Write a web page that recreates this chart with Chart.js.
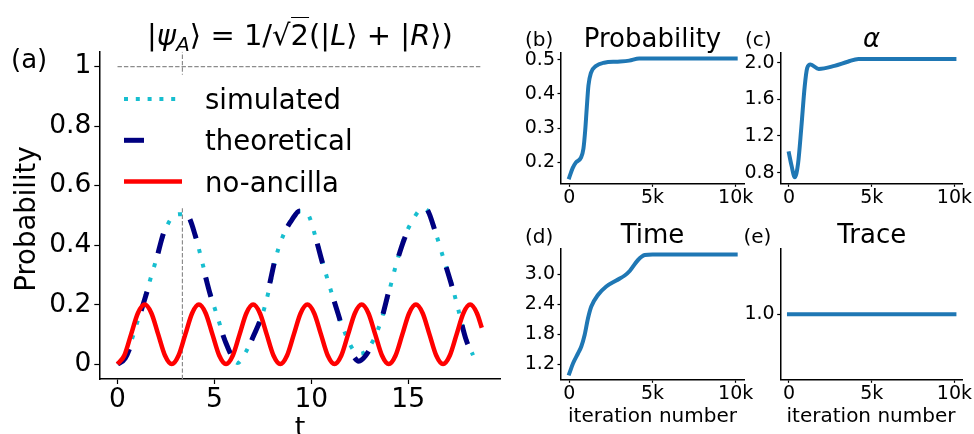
<!DOCTYPE html>
<html>
<head>
<meta charset="utf-8">
<script src="https://cdn.jsdelivr.net/npm/chart.js@4.4.1/dist/chart.umd.min.js"></script>
<style>
  html, body { margin: 0; padding: 0; background: #fff; }
  #fig { position: relative; width: 974px; height: 434px; overflow: hidden; font-family: "DejaVu Sans", sans-serif; color: #000; }
  #fig canvas { position: absolute; }
  .lbl { position: absolute; white-space: nowrap; line-height: 1; }
  .ctr { transform: translateX(-50%); }
  .lbl sub { font-size: 0.7em; vertical-align: -0.3em; line-height: 0; }
  .rot { transform: translate(-50%, -50%) rotate(-90deg); }
</style>
</head>
<body>
<div id="fig">
  <canvas id="chartA" width="515" height="434" style="left:0;top:0"></canvas>
  <canvas id="chartB" width="250" height="230" style="left:520px;top:0"></canvas>
  <canvas id="chartC" width="234" height="230" style="left:740px;top:0"></canvas>
  <canvas id="chartD" width="250" height="219" style="left:520px;top:215px"></canvas>
  <canvas id="chartE" width="234" height="219" style="left:740px;top:215px"></canvas>

  <div class="lbl ctr" style="left:300px;top:20.5px;font-size:29px">|<i>ψ</i><sub><i>A</i></sub>⟩ = 1/√<span style="border-top:1.5px solid #000">2</span>(|<i>L</i>⟩ + |<i>R</i>⟩)</div>
  <div class="lbl" style="left:11px;top:46px;font-size:26px">(a)</div>
  <div class="lbl rot" style="left:26px;top:219px;font-size:27.5px">Probability</div>
  <div class="lbl ctr" style="left:300px;top:413px;font-size:27px">t</div>

  <div class="lbl" style="left:525px;top:28.8px;font-size:20px">(b)</div>
  <div class="lbl ctr" style="left:652.5px;top:24.7px;font-size:26px">Probability</div>
  <div class="lbl" style="left:745px;top:28.8px;font-size:20px">(c)</div>
  <div class="lbl ctr" style="left:871.7px;top:24.7px;font-size:26px"><i>α</i></div>

  <div class="lbl" style="left:525px;top:225.5px;font-size:20px">(d)</div>
  <div class="lbl ctr" style="left:652.5px;top:221.3px;font-size:26px">Time</div>
  <div class="lbl" style="left:743.5px;top:225.5px;font-size:20px">(e)</div>
  <div class="lbl ctr" style="left:871.7px;top:221.3px;font-size:26px">Trace</div>

  <div class="lbl ctr" style="left:652.5px;top:405px;font-size:20px">iteration number</div>
  <div class="lbl ctr" style="left:871px;top:405px;font-size:20px">iteration number</div>
</div>

<script>
// (a) probability vs t
const tSim = [0, 0.4, 0.8, 1.2, 1.6, 2.0, 2.4, 2.8, 3.2, 3.6, 4.0, 4.4, 4.8, 5.2, 5.6, 6.0, 6.2, 6.6, 7.0, 7.4, 7.8, 8.2, 8.6, 9.0, 9.4, 9.8, 10.2, 10.6, 11.0, 11.4, 11.8, 12.2, 12.5, 12.8, 13.2, 13.6, 14.0, 14.4, 14.8, 15.2, 15.6, 15.8, 16.0, 16.4, 16.8, 17.2, 17.6, 18.0, 18.35];
const pSim = [0, 0.025, 0.095, 0.18, 0.265, 0.352, 0.44, 0.492, 0.504, 0.498, 0.435, 0.335, 0.235, 0.15, 0.072, 0.015, 0.004, 0.038, 0.092, 0.15, 0.245, 0.365, 0.44, 0.488, 0.514, 0.506, 0.432, 0.338, 0.25, 0.166, 0.095, 0.045, 0.035, 0.042, 0.08, 0.145, 0.24, 0.34, 0.425, 0.48, 0.518, 0.522, 0.515, 0.445, 0.36, 0.28, 0.18, 0.082, 0.03];

const tTheo = [0, 0.4, 0.8, 1.2, 1.6, 2.0, 2.4, 2.8, 3.2, 3.6, 4.0, 4.4, 4.8, 5.2, 5.6, 6.0, 6.2, 6.6, 7.0, 7.4, 7.8, 8.2, 8.6, 9.0, 9.4, 9.8, 10.2, 10.6, 11.0, 11.4, 11.8, 12.2, 12.45, 12.8, 13.2, 13.6, 14.0, 14.4, 14.8, 15.2, 15.6, 15.8, 16.0, 16.4, 16.8, 17.2, 17.6, 18.0, 18.35];
const pTheo = [0, 0.02, 0.085, 0.175, 0.26, 0.35, 0.445, 0.49, 0.505, 0.5, 0.435, 0.33, 0.23, 0.145, 0.07, 0.015, 0.003, 0.035, 0.092, 0.155, 0.255, 0.37, 0.44, 0.485, 0.515, 0.505, 0.43, 0.335, 0.25, 0.166, 0.08, 0.025, 0.01, 0.028, 0.075, 0.145, 0.245, 0.34, 0.42, 0.478, 0.515, 0.525, 0.518, 0.445, 0.36, 0.275, 0.178, 0.08, 0.03];

const tRed = [0, 0.35, 0.7, 1.05, 1.4, 1.75, 2.1, 2.45, 2.8, 3.15, 3.5, 3.85, 4.2, 4.55, 4.9, 5.25, 5.6, 5.95, 6.3, 6.65, 7, 7.35, 7.7, 8.05, 8.4, 8.75, 9.1, 9.45, 9.8, 10.15, 10.5, 10.85, 11.2, 11.55, 11.9, 12.25, 12.6, 12.95, 13.3, 13.65, 14, 14.35, 14.7, 15.05, 15.4, 15.75, 16.1, 16.45, 16.8, 17.15, 17.5, 17.85, 18.2, 18.55, 18.8];
const pRed = [0, 0.029, 0.1, 0.171, 0.2, 0.171, 0.1, 0.029, 0, 0.029, 0.1, 0.171, 0.2, 0.171, 0.1, 0.029, 0, 0.029, 0.1, 0.171, 0.2, 0.171, 0.1, 0.029, 0, 0.029, 0.1, 0.171, 0.2, 0.171, 0.1, 0.029, 0, 0.029, 0.1, 0.171, 0.2, 0.171, 0.1, 0.029, 0, 0.029, 0.1, 0.171, 0.2, 0.171, 0.1, 0.029, 0, 0.029, 0.1, 0.171, 0.2, 0.171, 0.122];

const refLevel = 1;      // dashed guide at probability 1
const tMark = 3.35;      // dashed vertical marker
const tTicksA = [0, 5, 10, 15];
const tTickLabelsA = ['0', '5', '10', '15'];
const pTicksA = [0, 0.2, 0.4, 0.6, 0.8, 1];
const pTickLabelsA = ['0', '0.2', '0.4', '0.6', '0.8', '1'];

// (b)-(e) optimisation traces
const iterB = [0, 200, 400, 700, 850, 950, 1050, 1150, 1300, 1600, 2100, 2900, 3600, 4200, 5000, 10000];
const probB = [0.155, 0.182, 0.199, 0.213, 0.24, 0.29, 0.36, 0.425, 0.462, 0.482, 0.492, 0.495, 0.498, 0.504, 0.504, 0.504];
const iterC = [0, 150, 350, 550, 750, 950, 1100, 1300, 1800, 2750, 3550, 4200, 5000, 10000];
const alphaC = [1.01, 0.88, 0.75, 0.9, 1.3, 1.74, 1.94, 1.98, 1.932, 1.965, 2.01, 2.04, 2.04, 2.04];
const iterD = [0, 220, 520, 720, 920, 1120, 1320, 1720, 2220, 2820, 3330, 3630, 4130, 4530, 5000, 10000];
const timeD = [1.01, 1.21, 1.41, 1.55, 1.78, 2.11, 2.35, 2.58, 2.75, 2.87, 2.97, 3.06, 3.28, 3.38, 3.39, 3.39];
const iterE = [0, 10000];
const traceE = [1.0, 1.0];

const iterTicks = [0, 5000, 10000];
const iterTickLabels = ['0', '5k', '10k'];
const probTicksB = [0.2, 0.3, 0.4, 0.5];
const probTickLabelsB = ['0.2', '0.3', '0.4', '0.5'];
const alphaTicksC = [0.8, 1.2, 1.6, 2.0];
const alphaTickLabelsC = ['0.8', '1.2', '1.6', '2.0'];
const timeTicksD = [1.2, 1.8, 2.4, 3.0];
const timeTickLabelsD = ['1.2', '1.8', '2.4', '3.0'];
const traceTicksE = [1.0];
const traceTickLabelsE = ['1.0'];

Chart.defaults.font.family = '"DejaVu Sans", sans-serif';
Chart.defaults.color = '#000';

const pts = (xs, ys) => xs.map((x, i) => ({ x, y: ys[i] }));

// legend with a white patch, handles drawn in each dataset's own style
const legendBox = {
    id: 'legendBox',
    afterDatasetsDraw(chart) {
        const { ctx, chartArea: a } = chart;
        ctx.save();
        ctx.fillStyle = '#fff';
        ctx.fillRect(a.left + 14, a.top + 23, 252, 133);
        ctx.font = '27.5px "DejaVu Sans"';
        ctx.textBaseline = 'alphabetic';
        chart.data.datasets.filter(d => d.label).forEach((d, i) => {
            const y = a.top + 47.3 + i * 41.3;
            ctx.beginPath();
            ctx.strokeStyle = d.borderColor;
            ctx.lineWidth = d.borderWidth;
            ctx.setLineDash(d.legendDash || d.borderDash || []);
            ctx.moveTo(a.left + 24.7, y);
            ctx.lineTo(a.left + 82.7, y);
            ctx.stroke();
            ctx.fillStyle = '#000';
            ctx.fillText(d.label, a.left + 105.7, y + 10);
        });
        ctx.restore();
    }
};

function axes(box, xs, ys) {
    const font = { size: box.tickSize };
    const grid = { drawOnChartArea: false, tickLength: box.tickLen, tickWidth: 1.2, tickColor: '#000' };
    const border = { color: '#000', width: 1.5 };
    return {
        x: {
            type: 'linear', min: xs.min, max: xs.max,
            afterFit: s => { s.height = box.h - box.bottom; },
            afterBuildTicks: s => { s.ticks = xs.ticks.map(v => ({ value: v })); },
            ticks: { font, padding: 0, maxRotation: 0, autoSkip: false, callback: (v, i) => xs.labels[i] },
            grid, border
        },
        y: {
            type: 'linear', min: ys.min, max: ys.max,
            afterFit: s => { s.width = box.left; },
            afterBuildTicks: s => { s.ticks = ys.ticks.map(v => ({ value: v })); },
            ticks: { font, padding: box.yPad, autoSkip: false, callback: (v, i) => ys.labels[i] },
            grid, border
        }
    };
}

function baseOptions(box, xs, ys) {
    return {
        responsive: false,
        animation: false,
        devicePixelRatio: 1,
        layout: { padding: { top: box.top, right: box.w - box.right, bottom: 0, left: 0 } },
        plugins: { legend: { display: false }, tooltip: { enabled: false } },
        elements: { point: { radius: 0 }, line: { cubicInterpolationMode: 'monotone' } },
        scales: axes(box, xs, ys)
    };
}

function drawMain() {
    const box = { w: 515, h: 434, left: 99.3, top: 51.7, right: 500, bottom: 379, tickSize: 26.5, tickLen: 5, yPad: 3 };
    const xs = { min: -0.94, max: 19.74, ticks: tTicksA, labels: tTickLabelsA };
    const ys = { min: -0.05, max: 1.05, ticks: pTicksA, labels: pTickLabelsA };
    const guide = { borderColor: '#8c8c8c', borderWidth: 1.2, borderDash: [4.4, 2], order: 4 };
    new Chart(document.getElementById('chartA'), {
        type: 'line',
        data: {
            datasets: [
                { label: 'simulated', data: pts(tSim, pSim), borderColor: '#17becf', borderWidth: 4, borderDash: [4, 11], legendDash: [4, 7.8], order: 3 },
                { label: 'theoretical', data: pts(tTheo, pTheo), borderColor: '#000080', borderWidth: 5, borderDash: [20, 40], order: 2 },
                { label: 'no-ancilla', data: pts(tRed, pRed), borderColor: '#ff0000', borderWidth: 4.5, order: 1 },
                { ...guide, data: [{ x: tRed[0], y: refLevel }, { x: tRed[tRed.length - 1], y: refLevel }] },
                { ...guide, data: [{ x: tMark, y: ys.min }, { x: tMark, y: ys.max }] }
            ]
        },
        options: baseOptions(box, xs, ys),
        plugins: [legendBox]
    });
}

function drawPanel(id, box, xVals, yVals, ys) {
    const xs = { min: -500, max: 10500, ticks: iterTicks, labels: iterTickLabels };
    new Chart(document.getElementById(id), {
        type: 'line',
        data: {
            datasets: [{ data: pts(xVals, yVals), borderColor: '#1f77b4', borderWidth: 4, borderCapStyle: 'square' }]
        },
        options: baseOptions(box, xs, ys)
    });
}

const small = { tickSize: 19, tickLen: 3.5, yPad: 2.5 };
drawMain();
drawPanel('chartB', { ...small, w: 250, h: 230, left: 41, top: 52.3, right: 224, bottom: 183.3 },
    iterB, probB, { min: 0.1375, max: 0.5225, ticks: probTicksB, labels: probTickLabelsB });
drawPanel('chartC', { ...small, w: 234, h: 230, left: 40.7, top: 52.3, right: 222.7, bottom: 183.3 },
    iterC, alphaC, { min: 0.684, max: 2.113, ticks: alphaTicksC, labels: alphaTickLabelsC });
drawPanel('chartD', { ...small, w: 250, h: 219, left: 41, top: 34, right: 224, bottom: 164.3 },
    iterD, timeD, { min: 0.894, max: 3.5, ticks: timeTicksD, labels: timeTickLabelsD });
drawPanel('chartE', { ...small, w: 234, h: 219, left: 40.7, top: 34, right: 222.7, bottom: 164.3 },
    iterE, traceE, { min: 0.9, max: 1.1, ticks: traceTicksE, labels: traceTickLabelsE });
</script>
</body>
</html>
